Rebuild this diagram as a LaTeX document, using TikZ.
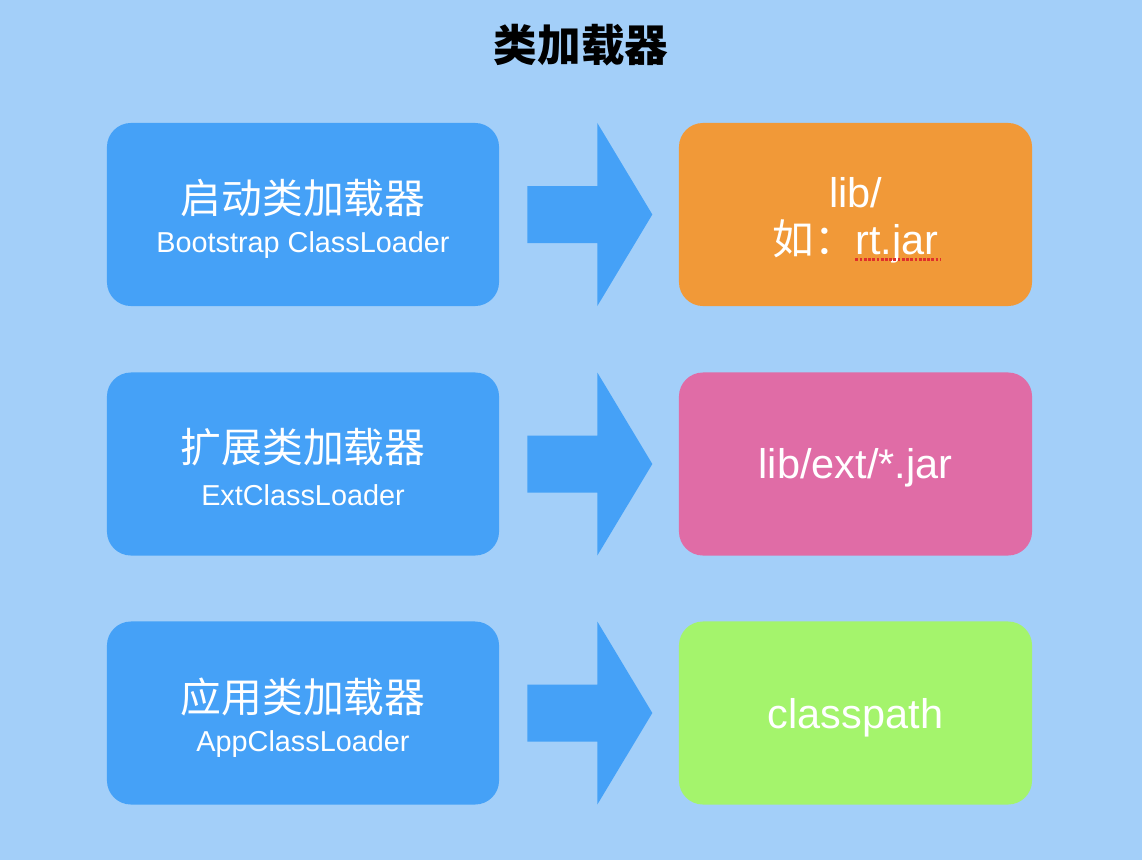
\documentclass[tikz,border=0pt]{standalone}
\usepackage{fontspec}
\setmainfont{Noto Sans CJK SC}
\newfontfamily\cjkfont{Noto Sans CJK SC}
\newfontfamily\latinfont{Liberation Sans}
\usetikzlibrary{calc}
\definecolor{bgblue}{HTML}{A3CFF9}
\definecolor{loaderblue}{HTML}{45A1F7}
\definecolor{liborange}{HTML}{F19938}
\definecolor{extpink}{HTML}{E06CA6}
\definecolor{pathgreen}{HTML}{A4F46C}
\definecolor{spellred}{HTML}{E0302A}

\begin{document}
\begin{tikzpicture}[x=0.025cm, y=-0.025cm,
    box/.style={rounded corners=0.6cm, minimum width=9.8cm, minimum height=4.575cm, inner sep=0pt},
    loader/.style={box, fill=loaderblue},
    target/.style={box, minimum width=8.825cm},
    cnbig/.style={text=white, font=\fontsize{29}{34}\selectfont},
    ensmall/.style={text=white, font=\latinfont\fontsize{20.5}{24}\selectfont},
    libtext/.style={text=white, font=\latinfont\fontsize{29.5}{34}\selectfont}]
    \fill [bgblue] (0,0) rectangle (1142,860);
    \useasboundingbox (0,0) rectangle (1142,860);
    \node (title) at (581,45) {\fontsize{31}{36}\selectfont\bfseries 类加载器};
    % loaders on the left
    \node [loader] (boot) at (303,214.5) {};
    \node [loader] (ext) at (303,464) {};
    \node [loader] (app) at (303,713) {};
    \node [cnbig] (bootcn) at ($(boot)+(0,-16.5)$) {启动类加载器};
    \node [ensmall] (booten) at ($(boot)+(0,31)$) {Bootstrap ClassLoader};
    \node [cnbig] (extcn) at ($(ext)+(0,-16.5)$) {扩展类加载器};
    \node [ensmall] (exten) at ($(ext)+(0,31)$) {ExtClassLoader};
    \node [cnbig] (appcn) at ($(app)+(0,-16.5)$) {应用类加载器};
    \node [ensmall] (appen) at ($(app)+(0,31)$) {AppClassLoader};
    % what they load
    \node [target, fill=liborange] (rtlib) at (855.5,214.5) {};
    \node [target, fill=extpink] (extlib) at (855.5,464) {};
    \node [target, fill=pathgreen] (cpath) at (855.5,713) {};
    \node [libtext] (rtdir) at ($(rtlib)+(0,-22)$) {lib/};
    \node [libtext, anchor=base] (rtjar) at ($(rtlib)+(0,40)$) {{\cjkfont 如：}rt.jar};
    \draw [spellred, dash pattern=on 2pt off 1pt, line width=1.6pt] ($(rtjar.base east)+(-88,5)$) -- ($(rtjar.base east)+(-2,5)$);
    \node [libtext] (extjar) at ($(extlib)+(0,4)$) {lib/ext/*.jar};
    \node [libtext] (cptext) at ($(cpath)+(0,5)$) {classpath};
    % arrows
    \foreach \src in {boot,ext,app}
        \fill [loaderblue] ($(\src.east)+(28,-28.5)$) -- ($(\src.east)+(98,-28.5)$)
            -- ($(\src.east)+(98,-91.5)$) -- ($(\src.east)+(153,0)$)
            -- ($(\src.east)+(98,91.5)$) -- ($(\src.east)+(98,28.5)$)
            -- ($(\src.east)+(28,28.5)$) -- cycle;
\end{tikzpicture}
\end{document}
